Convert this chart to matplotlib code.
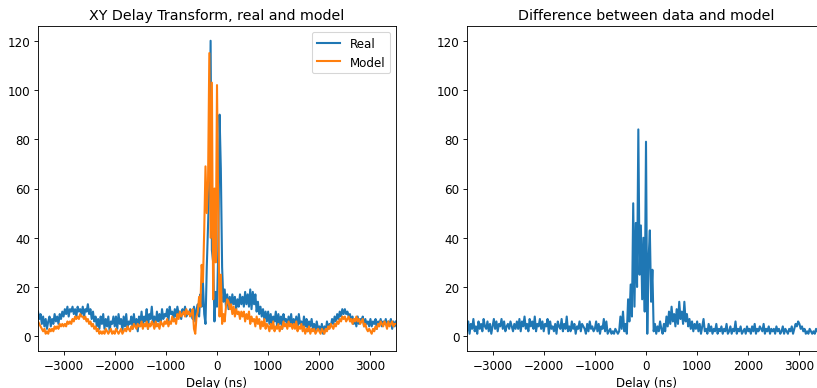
import numpy as np
import matplotlib
matplotlib.use('Agg')
import matplotlib.pyplot as plt

# delay axis, 25 ns steps
delay = np.arange(-3500, 3501, 25)

# XY delay transform of the data
real = [
    10, 7, 9, 5, 8, 4, 7, 3, 6, 8, 4, 7, 5, 9, 6, 8, 5, 9, 7, 10,
    8, 11, 9, 12, 8, 11, 10, 12, 9, 11, 8, 12, 10, 11, 9, 12, 8, 11, 10, 13,
    9, 11, 7, 10, 6, 8, 4, 7, 3, 8, 5, 9, 3, 7, 4, 8, 2, 6, 5, 8,
    4, 8, 3, 9, 5, 7, 2, 8, 4, 9, 3, 6, 5, 8, 3, 9, 4, 7, 2, 8,
    5, 10, 4, 8, 6, 11, 3, 9, 7, 12, 5, 8, 4, 10, 6, 9, 5, 11, 7, 9,
    8, 11, 6, 12, 9, 10, 7, 11, 8, 12, 9, 10, 7, 11, 9, 12, 8, 10, 9, 11,
    10, 7, 12, 6, 11, 13, 8, 17, 12, 22, 9, 5, 28, 45, 62, 120, 35, 30, 6, 18,
    12, 35, 90, 68, 28, 14, 19, 12, 17, 11, 16, 12, 17, 13, 16, 11, 15, 12, 17, 13,
    16, 12, 18, 13, 17, 12, 19, 11, 18, 13, 17, 10, 14, 9, 12, 8, 11, 7, 10, 6,
    10, 5, 9, 4, 8, 6, 10, 4, 9, 5, 8, 3, 9, 6, 7, 4, 8, 5, 9, 4,
    7, 4, 8, 3, 9, 5, 6, 3, 8, 4, 7, 2, 6, 4, 7, 3, 5, 2, 6, 3,
    4, 2, 5, 1, 4, 2, 6, 3, 5, 4, 7, 5, 8, 6, 9, 7, 10, 8, 11, 9,
    11, 9, 10, 8, 9, 6, 8, 5, 7, 4, 8, 5, 7, 6, 8, 4, 7, 5, 6, 4,
    7, 4, 6, 5, 7, 3, 6, 5, 7, 4, 6, 5, 7, 4, 6, 5, 7, 3, 6, 4,
    6,
]

model = [
    6, 5, 4, 3, 2, 3, 1, 2, 1, 3, 2, 3, 2, 4, 3, 4, 3, 5, 4, 5,
    4, 5, 4, 6, 5, 6, 5, 7, 6, 8, 7, 8, 7, 9, 8, 8, 7, 8, 6, 7,
    5, 6, 4, 5, 3, 4, 2, 3, 1, 2, 1, 2, 1, 3, 2, 1, 2, 3, 1, 2,
    1, 3, 2, 1, 2, 3, 1, 2, 3, 2, 4, 3, 2, 4, 3, 5, 4, 3, 5, 4,
    4, 6, 3, 5, 4, 6, 3, 5, 4, 6, 5, 3, 6, 4, 5, 3, 6, 5, 4, 6,
    5, 7, 4, 6, 5, 8, 6, 7, 5, 9, 7, 10, 8, 9, 10, 8, 11, 9, 10, 8,
    9, 11, 3, 1, 8, 10, 16, 12, 29, 22, 43, 69, 50, 63, 115, 40, 103, 15, 60, 30,
    102, 50, 8, 25, 5, 9, 6, 12, 15, 14, 11, 13, 9, 12, 8, 11, 9, 10, 7, 10,
    8, 10, 6, 9, 7, 10, 5, 8, 6, 7, 4, 8, 5, 7, 3, 6, 4, 7, 3, 5,
    4, 2, 5, 3, 6, 2, 4, 3, 5, 2, 4, 3, 6, 4, 5, 3, 6, 4, 5, 3,
    5, 3, 6, 2, 4, 3, 5, 2, 4, 1, 3, 2, 4, 1, 3, 2, 3, 1, 2, 3,
    2, 1, 3, 2, 1, 3, 2, 4, 3, 5, 4, 3, 5, 4, 6, 5, 7, 6, 8, 7,
    8, 6, 7, 8, 6, 7, 5, 7, 6, 8, 6, 7, 5, 6, 7, 4, 5, 3, 2, 3,
    2, 1, 3, 2, 4, 3, 5, 4, 6, 5, 4, 6, 5, 3, 6, 4, 5, 6, 4, 5,
    5,
]

difference = [
    2, 6, 1, 5, 3, 7, 2, 4, 1, 6, 3, 5, 2, 7, 4, 3, 6, 2, 5, 1,
    4, 7, 3, 6, 2, 5, 4, 7, 3, 6, 2, 4, 5, 3, 6, 4, 2, 5, 3, 6,
    3, 7, 2, 6, 4, 8, 3, 5, 2, 7, 4, 6, 3, 8, 2, 5, 4, 7, 3, 6,
    2, 5, 4, 7, 1, 6, 3, 4, 2, 5, 1, 6, 4, 3, 7, 2, 5, 3, 8, 2,
    4, 2, 6, 3, 5, 1, 4, 3, 6, 2, 5, 4, 3, 1, 5, 2, 6, 3, 4, 2,
    3, 6, 2, 5, 1, 4, 3, 7, 2, 6, 1, 2, 3, 1, 2, 1, 3, 2, 1, 2,
    8, 3, 10, 2, 5, 1, 15, 6, 21, 8, 54, 12, 46, 20, 84, 25, 45, 15, 40, 10,
    79, 1, 31, 43, 14, 27, 2, 5, 1, 4, 2, 6, 3, 1, 5, 2, 8, 4, 10, 5,
    12, 6, 9, 4, 11, 5, 14, 7, 10, 5, 14, 6, 9, 4, 7, 3, 6, 2, 5, 3,
    6, 2, 5, 1, 4, 7, 2, 3, 1, 5, 2, 4, 1, 3, 2, 5, 1, 3, 2, 4,
    1, 3, 2, 5, 1, 2, 4, 1, 3, 2, 6, 1, 3, 2, 4, 1, 2, 3, 1, 4,
    2, 3, 1, 4, 2, 5, 1, 3, 2, 4, 3, 2, 5, 1, 3, 2, 4, 1, 3, 2,
    3, 1, 4, 2, 3, 1, 2, 4, 1, 3, 2, 1, 3, 2, 4, 1, 3, 5, 4, 6,
    5, 3, 4, 2, 3, 1, 2, 1, 3, 2, 1, 2, 1, 3, 2, 1, 2, 3, 1, 2,
    2,
]

dpi = 79
plt.rcParams['font.size'] = 10.8
plt.rcParams['axes.titlesize'] = 13
fig = plt.figure(figsize=(817 / dpi, 389 / dpi), dpi=dpi)

ax1 = fig.add_axes([38 / 817, 37 / 389, 358 / 817, 325 / 389])
ax1.plot(delay, real, color='#1f77b4', lw=1.9, label='Real')
ax1.plot(delay, model, color='#ff7f0e', lw=1.9, label='Model')
ax1.set_xlim(-3500, 3500)
ax1.set_ylim(-6, 126)
ax1.set_title('XY Delay Transform, real and model')
ax1.set_xlabel('Delay (ns)')
ax1.legend(loc='upper right')

# right panel runs off the edge of the image, as in the original
ax2 = fig.add_axes([467 / 817, 37 / 389, 358 / 817, 325 / 389])
ax2.plot(delay, difference, color='#1f77b4', lw=1.9)
ax2.set_xlim(-3500, 3500)
ax2.set_ylim(-6, 126)
ax2.set_title('Difference between data and model')
ax2.set_xlabel('Delay (ns)')

for ax in (ax1, ax2):
    ax.set_xticks([-3000, -2000, -1000, 0, 1000, 2000, 3000])
    ax.set_yticks([0, 20, 40, 60, 80, 100, 120])

fig.savefig('out.png', dpi=dpi)
